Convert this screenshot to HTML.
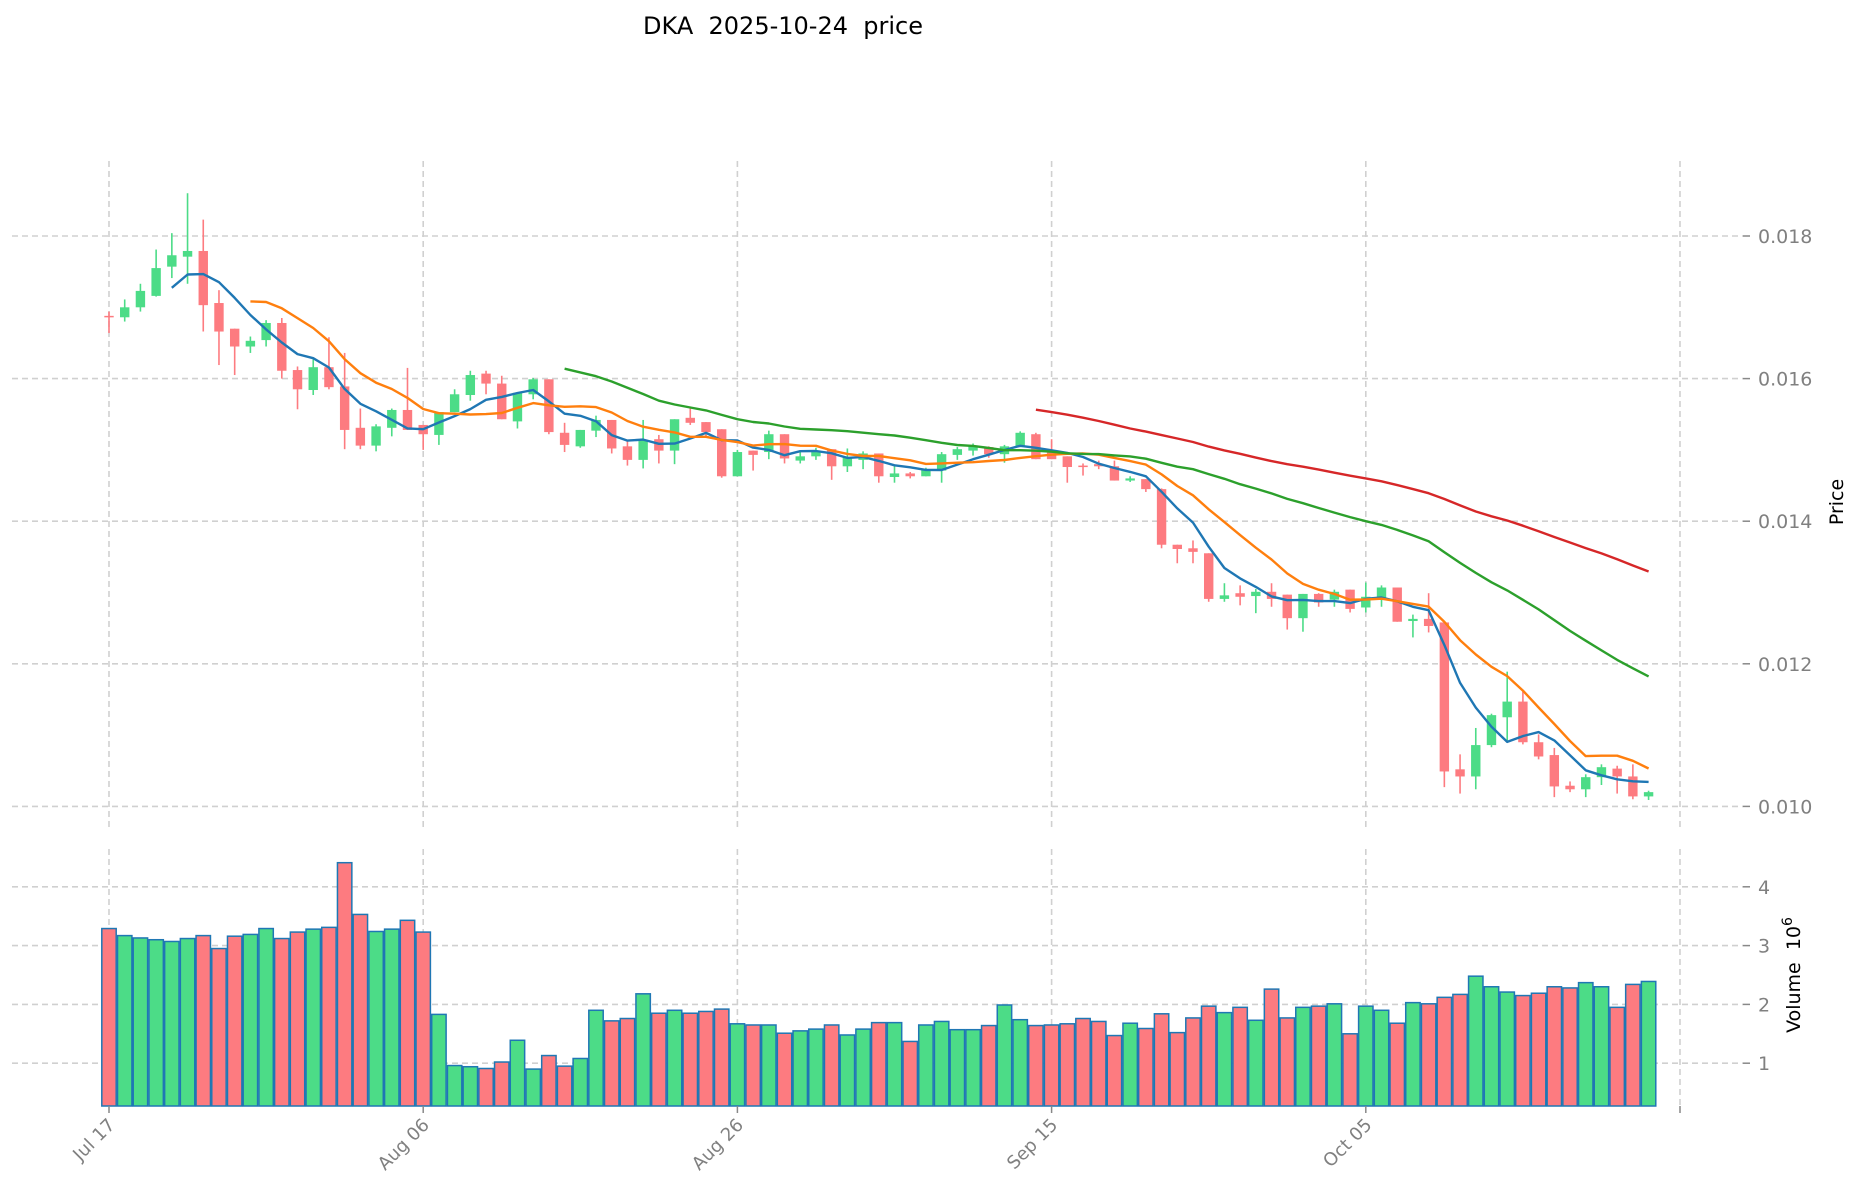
<!DOCTYPE html>
<html><head><meta charset="utf-8"><style>
html,body{margin:0;padding:0;background:#fff;}
svg{display:block;font-family:"DejaVu Sans","Liberation Sans",sans-serif;}
</style></head><body>
<svg id="chart" width="1860" height="1202" viewBox="0 0 1860 1202" xmlns="http://www.w3.org/2000/svg">
<text x="783" y="34" font-size="24" text-anchor="middle" fill="#000" style="white-space:pre">DKA  2025-10-24  price</text>
<g id="grid"></g><g id="vol"></g><g id="candles"></g><g id="mas"></g><g id="axes"></g>
<text transform="translate(1843,502) rotate(-90)" font-size="19" text-anchor="middle" fill="#000">Price</text>
<text transform="translate(1800,975) rotate(-90)" font-size="19" text-anchor="middle" fill="#000" style="white-space:pre">Volume  10<tspan dy="-8" font-size="14">6</tspan></text>
</svg>
<script>
const opens=[0.01688,0.01686,0.01700,0.01716,0.01757,0.01771,0.01779,0.01706,0.01670,0.01645,0.01654,0.01678,0.01612,0.01584,0.01616,0.01589,0.01531,0.01506,0.01531,0.01556,0.01535,0.01521,0.01553,0.01577,0.01607,0.01593,0.01540,0.01578,0.01599,0.01524,0.01505,0.01527,0.01542,0.01505,0.01486,0.01515,0.01499,0.01545,0.01539,0.01529,0.01463,0.01499,0.01497,0.01522,0.01485,0.01491,0.01501,0.01477,0.01486,0.01495,0.01462,0.01467,0.01463,0.01471,0.01493,0.01499,0.01504,0.01494,0.01504,0.01522,0.01499,0.01491,0.01478,0.01480,0.01477,0.01457,0.01459,0.01445,0.01367,0.01362,0.01355,0.01291,0.01299,0.01295,0.01301,0.01297,0.01264,0.01298,0.01290,0.01304,0.01279,0.01293,0.01307,0.01260,0.01263,0.01258,0.01052,0.01042,0.01086,0.01125,0.01147,0.01090,0.01072,0.01029,0.01024,0.01041,0.01053,0.01042,0.01014];
const closes=[0.01686,0.01700,0.01723,0.01755,0.01773,0.01779,0.01703,0.01666,0.01645,0.01653,0.01678,0.01611,0.01585,0.01616,0.01588,0.01528,0.01506,0.01533,0.01556,0.01528,0.01522,0.01553,0.01578,0.01605,0.01593,0.01543,0.01580,0.01599,0.01525,0.01507,0.01528,0.01542,0.01502,0.01486,0.01514,0.01499,0.01543,0.01538,0.01525,0.01463,0.01497,0.01493,0.01522,0.01488,0.01491,0.01498,0.01477,0.01490,0.01495,0.01463,0.01467,0.01463,0.01472,0.01494,0.01501,0.01505,0.01494,0.01505,0.01524,0.01487,0.01487,0.01476,0.01476,0.01477,0.01457,0.01460,0.01445,0.01367,0.01361,0.01357,0.01291,0.01296,0.01294,0.01301,0.01291,0.01264,0.01298,0.01286,0.01301,0.01277,0.01294,0.01307,0.01259,0.01263,0.01253,0.01049,0.01042,0.01086,0.01128,0.01147,0.01090,0.01070,0.01028,0.01024,0.01041,0.01055,0.01042,0.01014,0.01020];
const highs=[0.01694,0.01711,0.01733,0.01781,0.01804,0.01860,0.01823,0.01724,0.01670,0.01659,0.01682,0.01685,0.01617,0.01627,0.01658,0.01636,0.01558,0.01536,0.01558,0.01615,0.01535,0.01553,0.01585,0.01611,0.01611,0.01604,0.01580,0.01601,0.01599,0.01538,0.01528,0.01548,0.01542,0.01514,0.01542,0.01521,0.01543,0.01558,0.01539,0.01529,0.01500,0.01499,0.01527,0.01522,0.01497,0.01503,0.01501,0.01502,0.01498,0.01495,0.01477,0.01469,0.01475,0.01497,0.01504,0.01509,0.01505,0.01507,0.01526,0.01524,0.01515,0.01491,0.01481,0.01485,0.01485,0.01463,0.01459,0.01446,0.01367,0.01373,0.01355,0.01313,0.01310,0.01305,0.01313,0.01297,0.01298,0.01299,0.01304,0.01304,0.01314,0.01310,0.01307,0.01269,0.01299,0.01258,0.01073,0.01110,0.01130,0.01189,0.01161,0.01101,0.01082,0.01035,0.01045,0.01059,0.01057,0.01059,0.01022];
const lows=[0.01664,0.01680,0.01694,0.01715,0.01741,0.01733,0.01666,0.01619,0.01605,0.01636,0.01645,0.01600,0.01557,0.01577,0.01585,0.01501,0.01501,0.01498,0.01519,0.01528,0.01500,0.01507,0.01553,0.01569,0.01578,0.01543,0.01530,0.01571,0.01522,0.01497,0.01503,0.01518,0.01495,0.01478,0.01474,0.01481,0.01480,0.01535,0.01518,0.01461,0.01463,0.01471,0.01487,0.01481,0.01481,0.01486,0.01458,0.01469,0.01473,0.01454,0.01454,0.01460,0.01463,0.01454,0.01486,0.01492,0.01489,0.01482,0.01504,0.01487,0.01487,0.01454,0.01464,0.01473,0.01457,0.01455,0.01441,0.01362,0.01341,0.01341,0.01287,0.01287,0.01282,0.01271,0.01280,0.01248,0.01245,0.01280,0.01280,0.01272,0.01272,0.01280,0.01259,0.01237,0.01244,0.01027,0.01018,0.01024,0.01083,0.01092,0.01087,0.01066,0.01013,0.01020,0.01013,0.01030,0.01018,0.01010,0.01009];
const volumes=[3.29,3.17,3.13,3.10,3.07,3.12,3.17,2.95,3.16,3.19,3.29,3.12,3.23,3.28,3.31,4.41,3.53,3.24,3.28,3.43,3.23,1.83,0.96,0.94,0.91,1.02,1.39,0.90,1.13,0.95,1.08,1.90,1.72,1.76,2.18,1.85,1.90,1.85,1.88,1.92,1.67,1.65,1.65,1.51,1.55,1.58,1.65,1.48,1.58,1.69,1.69,1.37,1.65,1.71,1.57,1.57,1.64,1.99,1.74,1.64,1.65,1.67,1.76,1.71,1.47,1.68,1.59,1.84,1.52,1.77,1.97,1.86,1.95,1.73,2.26,1.77,1.95,1.97,2.01,1.50,1.97,1.90,1.68,2.03,2.01,2.12,2.17,2.48,2.30,2.21,2.15,2.19,2.30,2.28,2.37,2.30,1.95,2.34,2.39];
const dateLabels=["Jul 17","Aug 06","Aug 26","Sep 15","Oct 05",""];
const dateTickIdx=[0,20,40,60,80,100];
const priceTicks=[0.010,0.012,0.014,0.016,0.018];
const priceTickLabels=["0.010","0.012","0.014","0.016","0.018"];
const volTicks=[1,2,3,4];
const maPeriods=[5,10,30,60];

const NS="http://www.w3.org/2000/svg";
const X0=109, DX=15.71;
function xs(i){return X0+i*DX;}
function yp(p){return 236+(0.018-p)*71300;}
function yv(v){return 1122-v*58.8;}
const VB=1106;
function mk(parent,tag,attrs){const e=document.createElementNS(NS,tag);for(const k in attrs)e.setAttribute(k,attrs[k]);parent.appendChild(e);return e;}
const G=document.getElementById('grid'),V=document.getElementById('vol'),C=document.getElementById('candles'),M=document.getElementById('mas'),A=document.getElementById('axes');
const GREEN="#4cdc87",RED="#fd7b80",GRID="#d0d0d0";

priceTicks.forEach((t,k)=>{
 const l=mk(G,'line',{x1:12,x2:1743,y1:yp(t),y2:yp(t),stroke:GRID,'stroke-width':1.6,'stroke-dasharray':'6,4'});
 
 
 const tk=mk(A,'line',{x1:1743,x2:1750,y1:yp(t),y2:yp(t),stroke:'#888','stroke-width':1.5});
 
 
 const tx=mk(A,'text',{x:1758,y:yp(t)+7,'font-size':19,fill:'#808080'});
 tx.textContent=priceTickLabels[k];
 
 
});
volTicks.forEach(t=>{
 const l=mk(G,'line',{x1:12,x2:1743,y1:yv(t),y2:yv(t),stroke:GRID,'stroke-width':1.6,'stroke-dasharray':'6,4'});
 
 
 const tk=mk(A,'line',{x1:1743,x2:1750,y1:yv(t),y2:yv(t),stroke:'#888','stroke-width':1.5});
 
 
 const tx=mk(A,'text',{x:1758,y:yv(t)+7,'font-size':19,fill:'#808080'});
 tx.textContent=String(t);
 
 
});
dateTickIdx.forEach((d,k)=>{
 const x=xs(d);
 const l1=mk(G,'line',{x1:x,x2:x,y1:161,y2:830,stroke:GRID,'stroke-width':1.6,'stroke-dasharray':'6,4'});
 
 
 const l2=mk(G,'line',{x1:x,x2:x,y1:849,y2:VB,stroke:GRID,'stroke-width':1.6,'stroke-dasharray':'6,4'});
 
 
 const tk=mk(A,'line',{x1:x,x2:x,y1:VB,y2:VB+7,stroke:'#888','stroke-width':1.5});
 
 
 if(dateLabels[k]){
  const tx=mk(A,'text',{transform:`translate(${x+7},${VB+20}) rotate(-45)`,'font-size':18,fill:'#808080','text-anchor':'end'});
  tx.textContent=dateLabels[k];
  
  
 }
});

volumes.forEach((v,i)=>{
 const up=closes[i]>=opens[i];
 const top=yv(v);
 const r=mk(V,'rect',{x:xs(i)-7.2,y:top,width:14.4,height:VB-top,fill:up?GREEN:RED,stroke:'#1f77b4','stroke-width':1.5});
 
 
});

opens.forEach((o,i)=>{
 const c=closes[i],up=c>=o,col=up?GREEN:RED,x=xs(i);
 const w=mk(C,'line',{x1:x,x2:x,y1:yp(highs[i]),y2:yp(lows[i]),stroke:col,'stroke-width':1.6});
 
 
 const t=yp(Math.max(o,c)),b=yp(Math.min(o,c));
 const r=mk(C,'rect',{x:x-4.7,y:t,width:9.4,height:Math.max(b-t,1.5),fill:col});
 
 
});

const maColors=["#1f77b4","#ff7f0e","#2ca02c","#d62728"];
maPeriods.forEach((n,k)=>{
 const pts=[];
 for(let i=n-1;i<closes.length;i++){let s=0;for(let j=i-n+1;j<=i;j++)s+=closes[j];pts.push(xs(i).toFixed(1)+','+yp(s/n).toFixed(1));}
 const pl=mk(M,'polyline',{points:pts.join(' '),fill:'none',stroke:maColors[k],'stroke-width':2.4,'stroke-linejoin':'round'});
 
 
});
</script>
</body></html>
